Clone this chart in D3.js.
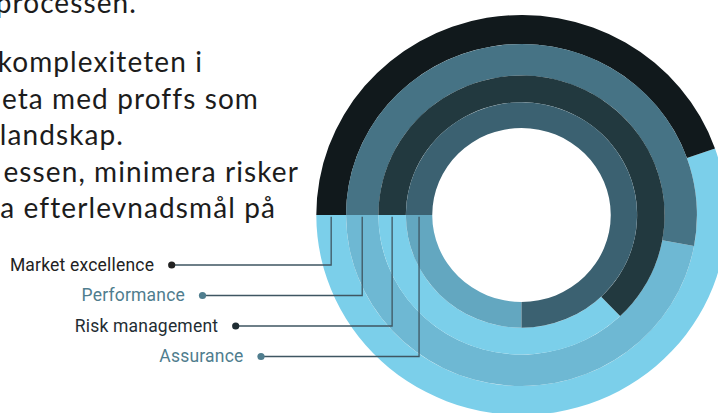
<!DOCTYPE html>
<html><head><meta charset="utf-8">
<script src="https://cdn.jsdelivr.net/npm/d3@7"></script>
<style>html,body{margin:0;padding:0;background:#fff;overflow:hidden}</style>
</head><body><svg id="c" width="718" height="413"></svg>
<script>
// ---- data ----
const categories = ["Market excellence", "Performance", "Risk management", "Assurance"];
const values = [44.6, 52.9, 62.9, 75];           // percent of full circle (dark part)
const darkColors = ["#11191c", "#467385", "#22393f", "#3b6171"];
const lightColors = ["#7bcfea", "#6eb8d3", "#7bcfea", "#63a7c0"];
const labelColors = ["#222222", "#4f7d8e", "#1f2d33", "#4f7d8e"];
const paragraphLines = ["processen.", "komplexiteten i", "eta med proffs som", "landskap.", "essen, minimera risker", "a efterlevnadsmål på"];

// ---- layout ----
const W = 718, H = 413;
const cx = 521.5, cy = 215, sx = 1.026;
const ringEdges = [200, 171, 139.5, 112.7, 87];   // outer edge of ring i, inner edge = ringEdges[i+1]
const paraRight = [137, 203, 259, 124, 299, 276];
const paraBase0 = 13, paraBase1 = 72, paraStep = 36.6;
const labelY0 = 265, labelStep = 30.5;
const labelDotX = [171.7, 202.5, 235.7, 261];

const svg = d3.select("#c");

// background paragraph text
svg.append("g").selectAll("text").data(paragraphLines).join("text")
  .attr("x", (d, i) => paraRight[i])
  .attr("y", (d, i) => i === 0 ? paraBase0 : paraBase1 + (i - 1) * paraStep)
  .attr("text-anchor", "end")
  .attr("font-family", "Lato, 'Open Sans', sans-serif")
  .attr("font-size", 28)
  .attr("letter-spacing", 1.1)
  .attr("fill", "#1c1c1c")
  .text(d => d);

// scales
const rOuter = d3.scaleOrdinal().domain(categories).range(ringEdges.slice(0, 4));
const rInner = d3.scaleOrdinal().domain(categories).range(ringEdges.slice(1, 5));
const angle = d3.scaleLinear().domain([0, 100]).range([-Math.PI / 2, 3 * Math.PI / 2]);

const arc = d3.arc();
const g = svg.append("g").attr("transform", `translate(${cx},${cy}) scale(${sx},1)`);

const rows = categories.map((c, i) => ({c, v: values[i], i}));
// light remainder arcs
g.selectAll("path.light").data(rows).join("path").attr("class", "light")
  .attr("d", d => arc({innerRadius: rInner(d.c), outerRadius: rOuter(d.c), startAngle: angle(d.v), endAngle: angle(100)}))
  .attr("fill", d => lightColors[d.i]);
// dark value arcs
g.selectAll("path.dark").data(rows).join("path").attr("class", "dark")
  .attr("d", d => arc({innerRadius: rInner(d.c), outerRadius: rOuter(d.c), startAngle: angle(0), endAngle: angle(d.v)}))
  .attr("fill", d => darkColors[d.i]);

// connectors + labels
const labelY = d3.scalePoint().domain(categories).range([labelY0, labelY0 + labelStep * 3]);
const lineX = c => cx - sx * (rOuter(c) + rInner(c)) / 2;
const lg = svg.append("g");
lg.selectAll("path").data(rows).join("path")
  .attr("d", d => `M${labelDotX[d.i]},${labelY(d.c)}H${lineX(d.c)}V${cy + 1.7}`)
  .attr("fill", "none").attr("stroke", "#3f5662").attr("stroke-width", 1.3);
lg.selectAll("circle").data(rows).join("circle")
  .attr("cx", d => labelDotX[d.i]).attr("cy", d => labelY(d.c)).attr("r", 3.6)
  .attr("fill", d => labelColors[d.i]);
lg.selectAll("text").data(rows).join("text")
  .attr("x", d => labelDotX[d.i] - 17.5).attr("y", d => labelY(d.c) + 5.8)
  .attr("text-anchor", "end")
  .attr("font-family", "Roboto, sans-serif").attr("font-size", 17.5)
  .attr("letter-spacing", 0.2)
  .attr("fill", d => labelColors[d.i])
  .text(d => d.c);
</script></body></html>
